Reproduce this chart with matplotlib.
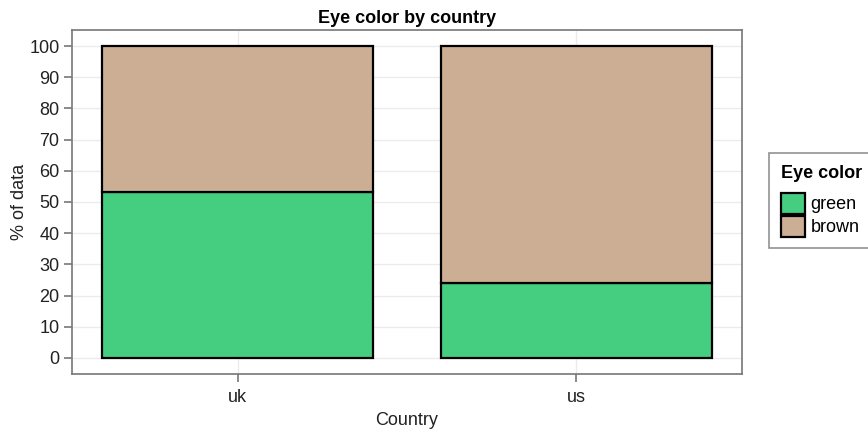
import matplotlib.pyplot as plt
from matplotlib.patches import Patch

countries = ["uk", "us"]
green = [53.2, 24.1]
brown = [100 - g for g in green]
eye_colors = ["green", "brown"]
colors = ["#45CE80", "#CCAE95"]

plt.rcParams['font.family'] = ['Liberation Sans', 'DejaVu Sans']
plt.rcParams['font.size'] = 13

fig = plt.figure(figsize=(8.68, 4.32), dpi=100)
ax = fig.add_axes([72 / 868, 58 / 432, 670 / 868, 344 / 432])

x = list(range(len(countries)))
ax.bar(x, green, width=0.8, color=colors[0], edgecolor="black", linewidth=1.6, zorder=3)
ax.bar(x, brown, bottom=green, width=0.8, color=colors[1], edgecolor="black", linewidth=1.6, zorder=3)

ax.set_xlim(-0.49, 1.49)
ax.set_ylim(-5.13, 105.13)
ax.set_xticks(x)
ax.set_xticklabels(countries)
ax.set_yticks(range(0, 101, 10))
ax.grid(True, color="#ebebeb", linewidth=1, zorder=0)
for s in ax.spines.values():
    s.set_color("#777777")
    s.set_linewidth(1.2)
ax.tick_params(color="#777777", length=6, width=1.2, labelcolor="#222222", pad=3)
ax.tick_params(axis="x", pad=5)
ax.set_xlabel("Country", color="#222222", labelpad=4)
ax.set_ylabel("% of data", color="#222222", labelpad=1)
ax.set_title("Eye color by country", fontweight="bold", fontsize=13, pad=5)

handles = [Patch(facecolor=c, edgecolor="black", linewidth=1.6) for c in colors]
leg = fig.legend(handles, eye_colors, title="Eye color", loc="upper left",
                 bbox_to_anchor=(769 / 868, 1 - 153 / 432), frameon=True,
                 fancybox=False, edgecolor="#777777", handlelength=1.35,
                 handleheight=1.4, handletextpad=0.3, labelspacing=0.12,
                 borderpad=0.65, borderaxespad=0, fontsize=13,
                 title_fontsize=13)
leg.get_title().set_fontweight("bold")
leg._legend_box.align = "left"
leg._legend_box.sep = 8
leg.get_frame().set_linewidth(1.2)

fig.savefig("out.png", dpi=100)
